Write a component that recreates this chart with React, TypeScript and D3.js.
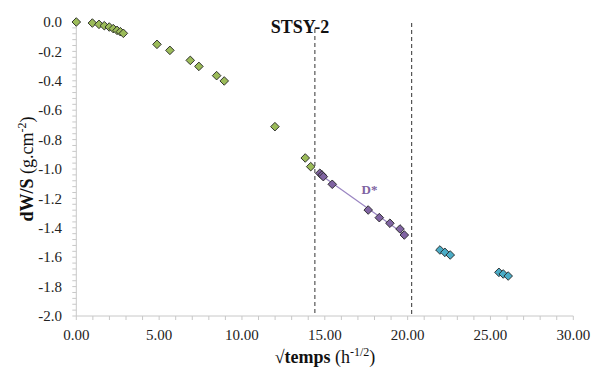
import React from "react";
import * as d3 from "d3";

const greenX = [0, 0.97, 1.37, 1.69, 1.99, 2.23, 2.46, 2.66, 2.84, 4.87, 5.65, 6.88, 7.4, 8.47, 8.93, 11.99, 13.82, 14.15];
const greenY = [0, -0.007, -0.016, -0.025, -0.034, -0.045, -0.057, -0.066, -0.077, -0.152, -0.193, -0.261, -0.302, -0.365, -0.401, -0.712, -0.925, -0.984];
const purpleX = [14.7, 14.83, 14.91, 15.45, 17.62, 18.29, 18.93, 19.54, 19.8];
const purpleY = [-1.029, -1.041, -1.052, -1.104, -1.279, -1.331, -1.369, -1.408, -1.449];
const cyanX = [21.95, 22.25, 22.57, 25.51, 25.77, 26.07];
const cyanY = [-1.551, -1.567, -1.585, -1.703, -1.714, -1.728];
const boundaries = [14.4, 20.24];
const xTicks = [0, 5, 10, 15, 20, 25, 30];
const yTicks = [0, -0.2, -0.4, -0.6, -0.8, -1.0, -1.2, -1.4, -1.6, -1.8, -2.0];

const W = 599;
const H = 369;
const L = 76.3, R = 573.3, T = 22, B = 316;

export default function App() {
  const x = d3.scaleLinear().domain([0, 30]).range([L, R]);
  const y = d3.scaleLinear().domain([-2, 0]).range([B, T]);
  const font = "'Liberation Serif', 'Times New Roman', serif";
  const axisColor = "#c8c8c8";

  const minorX = d3.range(0, 30.001, 1);
  const minorY = d3.range(0, 51).map((i) => -i * 0.04);

  const n = purpleX.length;
  const mx = d3.mean(purpleX)!;
  const my = d3.mean(purpleY)!;
  let sxy = 0, sxx = 0;
  for (let i = 0; i < n; i++) {
    sxy += (purpleX[i] - mx) * (purpleY[i] - my);
    sxx += (purpleX[i] - mx) ** 2;
  }
  const slope = sxy / sxx;
  const icpt = my - slope * mx;
  const x0 = d3.min(purpleX)!;
  const x1 = d3.max(purpleX)!;

  const diamond = (cx: number, cy: number, r = 4.3) =>
    `M${cx},${cy - r}L${cx + r},${cy}L${cx},${cy + r}L${cx - r},${cy}Z`;

  const series = [
    { xs: greenX, ys: greenY, fill: "#9BBB59" },
    { xs: purpleX, ys: purpleY, fill: "#8064A2" },
    { xs: cyanX, ys: cyanY, fill: "#4BACC6" },
  ];

  return (
    <svg width={W} height={H} style={{ position: "absolute", left: 0, top: 0, background: "#fff" }} fontFamily={font}>
      <line x1={L} x2={R} y1={B} y2={B} stroke={axisColor} strokeWidth={1} />
      <line x1={L} x2={L} y1={T} y2={B} stroke={axisColor} strokeWidth={1} />
      {minorX.map((v) => (
        <line key={"mx" + v} x1={x(v)} x2={x(v)} y1={B} y2={B + 4} stroke={axisColor} />
      ))}
      {minorY.map((v, i) => (
        <line key={"my" + i} x1={L - 4} x2={L} y1={y(v)} y2={y(v)} stroke={axisColor} />
      ))}
      {xTicks.map((v) => (
        <text key={"xt" + v} x={x(v)} y={340} textAnchor="middle" fontSize={15} fill="#222">
          {v.toFixed(2)}
        </text>
      ))}
      {yTicks.map((v) => (
        <text key={"yt" + v} x={62} y={y(v)} dy="0.34em" textAnchor="end" fontSize={15} fill="#222">
          {(v === 0 ? 0 : v).toFixed(1)}
        </text>
      ))}
      <line x1={x(boundaries[0])} x2={x(boundaries[0])} y1={29} y2={B} stroke="#555" strokeWidth={1.2} strokeDasharray="4,3" />
      <line x1={x(boundaries[1])} x2={x(boundaries[1])} y1={23} y2={B} stroke="#555" strokeWidth={1.2} strokeDasharray="4,3" />
      <line x1={x(x0)} y1={y(slope * x0 + icpt)} x2={x(x1)} y2={y(slope * x1 + icpt)} stroke="#9a85c2" strokeWidth={1.2} />
      {series.map((s, si) =>
        s.xs.map((xv, i) => (
          <path key={si + "-" + i} d={diamond(x(xv), y(s.ys[i]))} fill={s.fill} stroke="#222" strokeWidth={0.9} />
        ))
      )}
      <text x={300} y={33} textAnchor="middle" fontSize={18} fontWeight="bold" fill="#111">STSY-2</text>
      <text x={369.5} y={193.5} textAnchor="middle" fontSize={13} fontWeight="bold" fill="#8064A2">D*</text>
      <text x={325} y={363} textAnchor="middle" fontSize={18} fill="#111">
        <tspan fontWeight="bold">√temps</tspan>
        <tspan> (h</tspan>
        <tspan fontSize={12} dy={-7}>-1/2</tspan>
        <tspan dy={7}>)</tspan>
      </text>
      <text transform="translate(33,169) rotate(-90)" textAnchor="middle" fontSize={18} fill="#111">
        <tspan fontWeight="bold">dW/S</tspan>
        <tspan> (g.cm</tspan>
        <tspan fontSize={12} dy={-7}>-2</tspan>
        <tspan dy={7}>)</tspan>
      </text>
    </svg>
  );
}
